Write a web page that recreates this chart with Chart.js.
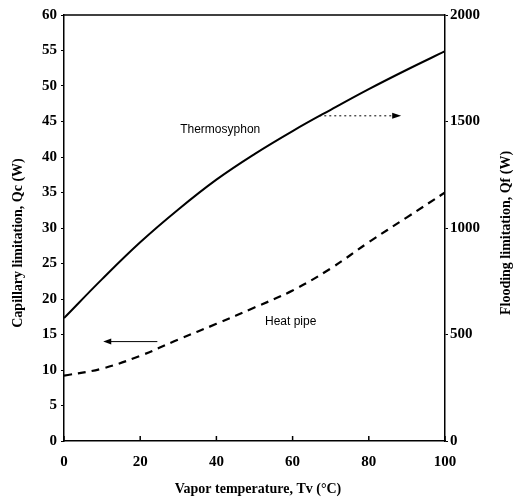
<!DOCTYPE html>
<html><head><meta charset="utf-8">
<script src="https://cdn.jsdelivr.net/npm/chart.js@4/dist/chart.umd.min.js"></script>
<style>html,body{margin:0;padding:0;background:#fff}canvas{display:block}</style>
</head><body>
<canvas id="c" width="525" height="503"></canvas>
<script>
const temps = [0,10,20,30,40,50,60,70,80,90,100];
const thermosyphonQf = [577,760,933,1087,1227,1347,1455,1555,1652,1743,1830];
const heatPipeQc = [9.2,10.2,12,14.3,16.5,18.8,21.2,24.3,28,31.5,35];
const xTicks = [0,20,40,60,80,100];
const leftTicks = [0,5,10,15,20,25,30,35,40,45,50,55,60];
const rightTicks = [0,500,1000,1500,2000];
const xTitle = 'Vapor temperature, Tv (°C)';
const leftTitle = 'Capillary limitation, Qc (W)';
const rightTitle = 'Flooding limitation, Qf (W)';
const labelThermo = 'Thermosyphon';
const labelHeat = 'Heat pipe';

const tickFont = {family:'"Liberation Serif", serif', size:15, weight:'bold'};

const deco = {
  id:'deco',
  afterDatasetsDraw(chart){
    const {ctx, chartArea:a, scales} = chart;
    const x = scales.x, y = scales.y;
    ctx.save();
    ctx.strokeStyle='#000'; ctx.lineWidth=1.5;
    ctx.beginPath(); ctx.moveTo(a.left,a.top); ctx.lineTo(a.right,a.top); ctx.stroke();
    xTicks.forEach(v=>{const px=x.getPixelForValue(v);ctx.beginPath();ctx.moveTo(px,a.bottom);ctx.lineTo(px,a.bottom-5);ctx.stroke();});
    ctx.fillStyle='#000';
    ctx.font='12px "Liberation Sans", Arial, sans-serif';
    ctx.textAlign='center'; ctx.textBaseline='middle';
    ctx.fillText(labelThermo, x.getPixelForValue(41), y.getPixelForValue(43.8));
    ctx.fillText(labelHeat, x.getPixelForValue(59.5), y.getPixelForValue(16.8));
    const ry = y.getPixelForValue(45.8);
    ctx.lineWidth=1; ctx.setLineDash([2,3]);
    ctx.beginPath(); ctx.moveTo(x.getPixelForValue(67),ry); ctx.lineTo(x.getPixelForValue(86),ry); ctx.stroke();
    ctx.setLineDash([]);
    let hx = x.getPixelForValue(88.5);
    ctx.beginPath(); ctx.moveTo(hx,ry); ctx.lineTo(hx-9,ry-3); ctx.lineTo(hx-9,ry+3); ctx.closePath(); ctx.fill();
    const ly = y.getPixelForValue(14);
    ctx.beginPath(); ctx.moveTo(x.getPixelForValue(12),ly); ctx.lineTo(x.getPixelForValue(24.5),ly); ctx.stroke();
    hx = x.getPixelForValue(10.3);
    ctx.beginPath(); ctx.moveTo(hx,ly); ctx.lineTo(hx+8,ly-3); ctx.lineTo(hx+8,ly+3); ctx.closePath(); ctx.fill();
    ctx.font='bold 14px "Liberation Serif", serif';
    ctx.textAlign='center'; ctx.textBaseline='middle';
    const cy = (a.top+a.bottom)/2 + 15;
    ctx.save(); ctx.translate(18, cy); ctx.rotate(-Math.PI/2); ctx.fillText(leftTitle,0,0); ctx.restore();
    ctx.save(); ctx.translate(506, cy-10); ctx.rotate(-Math.PI/2); ctx.fillText(rightTitle,0,0); ctx.restore();
    ctx.fillText(xTitle, 258, 489);
    ctx.restore();
  }
};

new Chart(document.getElementById('c'), {
  type:'line',
  data:{
    datasets:[
      {label:labelThermo, data:temps.map((t,i)=>({x:t,y:thermosyphonQf[i]})), yAxisID:'y1',
       borderColor:'#000', borderWidth:2, pointRadius:0, tension:0.4, fill:false},
      {label:labelHeat, data:temps.map((t,i)=>({x:t,y:heatPipeQc[i]})), yAxisID:'y',
       borderColor:'#000', borderWidth:2.2, borderDash:[8,6], pointRadius:0, tension:0.4, fill:false}
    ]
  },
  options:{
    responsive:false, animation:false, devicePixelRatio:1,
    layout:{padding:{top:15,bottom:0,left:0,right:0}},
    plugins:{legend:{display:false}, tooltip:{enabled:false}},
    scales:{
      x:{type:'linear', min:0, max:100,
         afterBuildTicks(s){s.ticks = xTicks.map(v=>({value:v}));},
         afterFit(s){s.height=62;},
         grid:{display:false}, border:{display:true,color:'#000',width:1.5},
         ticks:{color:'#000', font:tickFont, padding:4, maxRotation:0, callback:v=>String(v)}},
      y:{type:'linear', position:'left', min:0, max:60,
         afterBuildTicks(s){s.ticks = leftTicks.map(v=>({value:v}));},
         afterFit(s){s.width=64;},
         grid:{display:true, drawOnChartArea:false, tickLength:3, color:'#000'},
         border:{display:true,color:'#000',width:1.5},
         ticks:{color:'#000', font:tickFont, padding:4, callback:v=>String(v)}},
      y1:{type:'linear', position:'right', min:0, max:2000,
         afterBuildTicks(s){s.ticks = rightTicks.map(v=>({value:v}));},
         afterFit(s){s.width=80;},
         grid:{display:true, drawOnChartArea:false, tickLength:3, color:'#000'},
         border:{display:true,color:'#000',width:1.5},
         ticks:{color:'#000', font:tickFont, padding:2, callback:v=>String(v)}}
    }
  },
  plugins:[deco]
});
</script>
</body></html>
